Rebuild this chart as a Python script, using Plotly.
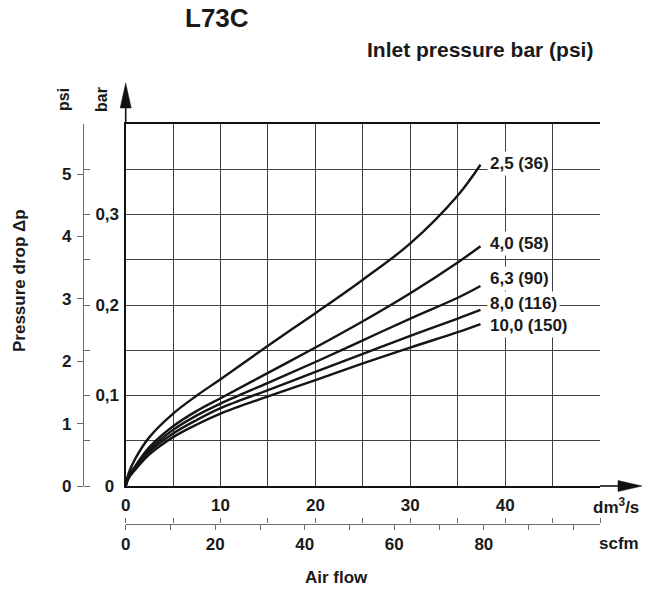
import plotly.graph_objects as go

# ---------------- data ----------------
flow_dm3s = [0, 0.3, 1, 2.5, 5, 7.5, 10, 15, 20, 25, 30, 35, 37.4]
dp_25 = [0, 0.014, 0.030, 0.054, 0.080, 0.100, 0.118, 0.155, 0.191, 0.228, 0.268, 0.321, 0.355]
dp_40 = [0, 0.011, 0.022, 0.043, 0.066, 0.083, 0.097, 0.125, 0.153, 0.182, 0.213, 0.247, 0.265]
dp_63 = [0, 0.010, 0.020, 0.040, 0.062, 0.078, 0.091, 0.114, 0.137, 0.161, 0.185, 0.208, 0.221]
dp_80 = [0, 0.009, 0.019, 0.038, 0.058, 0.073, 0.086, 0.106, 0.126, 0.146, 0.166, 0.185, 0.1945]
dp_100 = [0, 0.0085, 0.018, 0.035, 0.054, 0.068, 0.080, 0.099, 0.117, 0.1355, 0.153, 0.170, 0.179]

series_values = [dp_25, dp_40, dp_63, dp_80, dp_100]
series_labels = ["2,5 (36)", "4,0 (58)", "6,3 (90)", "8,0 (116)", "10,0 (150)"]

dm3s_ticks = [0, 5, 10, 15, 20, 25, 30, 35, 40, 45, 50]
dm3s_ticktext = ["0", " ", "10", " ", "20", " ", "30", " ", "40", " ", " "]
scfm_ticks = [0, 10, 20, 30, 40, 50, 60, 70, 80, 90, 100]
scfm_ticktext = ["0", " ", "20", " ", "40", " ", "60", " ", "80", " ", " "]
psi_ticks = [0, 1, 2, 3, 4, 5]
psi_ticktext = ["0", "1", "2", "3", "4", "5"]
bar_ticks = [0, 0.05, 0.1, 0.15, 0.2, 0.25, 0.3, 0.35]
bar_ticktext = ["\u20070", " ", "0,1", " ", "0,2", " ", "0,3", " "]

FLOW_MAX = 50          # dm3/s
BAR_MAX = 0.4          # bar
SCFM_PER_DM3S = 2.11888
PSI_PER_BAR = 14.5038

# ---------------- layout geometry ----------------
W, H = 649, 589
def px(x):
    return x / W
def py(y):
    return 1 - y / H

FONT = "Liberation Sans"
TXT = "#1a1a1a"
GRID = "#404040"
SCALE = "#6a6a6a"

def bfont(size):
    return dict(family=FONT, size=size, color=TXT, weight="bold")

fig = go.Figure()

for vals in series_values:
    fig.add_trace(go.Scatter(
        x=flow_dm3s, y=vals, mode="lines",
        line=dict(color="#151515", width=2.4, shape="spline", smoothing=1.0),
        hoverinfo="skip", showlegend=False, xaxis="x", yaxis="y"))

# curve end labels
annotations = []
label_y_px = [164, 243, 279, 303, 325]
for vals, lab, ly in zip(series_values, series_labels, label_y_px):
    annotations.append(dict(
        x=px(487), y=py(ly), xref="paper", yref="paper", text=lab,
        showarrow=False, xanchor="left", yanchor="middle",
        font=bfont(17), bgcolor="white", borderpad=2))

annotations += [
    dict(x=px(217), y=py(18), xref="paper", yref="paper", text="L73C",
         showarrow=False, font=bfont(26), xanchor="center", yanchor="middle"),
    dict(x=px(480), y=py(49), xref="paper", yref="paper", text="Inlet pressure bar (psi)",
         showarrow=False, font=bfont(21), xanchor="center", yanchor="middle"),
    dict(x=px(63), y=py(100), xref="paper", yref="paper", text="psi", textangle=-90,
         showarrow=False, font=bfont(16), xanchor="center", yanchor="middle"),
    dict(x=px(101), y=py(100), xref="paper", yref="paper", text="bar", textangle=-90,
         showarrow=False, font=bfont(16), xanchor="center", yanchor="middle"),
    dict(x=px(20), y=py(281), xref="paper", yref="paper", text="Pressure drop Δp",
         textangle=-90, showarrow=False, font=bfont(17), xanchor="center", yanchor="middle"),
    dict(x=px(616), y=py(506), xref="paper", yref="paper", text="dm<sup>3</sup>/s",
         showarrow=False, font=bfont(17), xanchor="center", yanchor="middle"),
    dict(x=px(619), y=py(543), xref="paper", yref="paper", text="scfm",
         showarrow=False, font=bfont(17), xanchor="center", yanchor="middle"),
    dict(x=px(336), y=py(577), xref="paper", yref="paper", text="Air flow",
         showarrow=False, font=bfont(17), xanchor="center", yanchor="middle"),
]

# axis arrow decorations
shapes = [
    dict(type="line", xref="paper", yref="paper", x0=px(600), y0=py(486), x1=px(620), y1=py(486),
         line=dict(color="#111", width=1.6)),
    dict(type="path", xref="paper", yref="paper",
         path=f"M {px(618)} {py(480.5)} L {px(642)} {py(486)} L {px(618)} {py(491.5)} Z",
         fillcolor="#111", line=dict(color="#111", width=0.5)),
    dict(type="line", xref="paper", yref="paper", x0=px(125.7), y0=py(124), x1=px(125.7), y1=py(106),
         line=dict(color="#111", width=1.6)),
    dict(type="path", xref="paper", yref="paper",
         path=f"M {px(120.2)} {py(108)} L {px(125.7)} {py(83)} L {px(131.2)} {py(108)} Z",
         fillcolor="#111", line=dict(color="#111", width=0.5)),
]

x_dom = [px(125.7), px(600)]
y_dom = [py(486), py(124)]
scale_y = py(523.5)
scale_x = px(83)

fig.update_layout(
    width=W, height=H,
    margin=dict(l=0, r=0, t=0, b=0, pad=0),
    paper_bgcolor="white", plot_bgcolor="white",
    showlegend=False,
    annotations=annotations,
    shapes=shapes,
    xaxis=dict(domain=x_dom, range=[0, FLOW_MAX], tickvals=dm3s_ticks, showticklabels=False,
               ticks="", showgrid=True, gridcolor=GRID, gridwidth=1.1, zeroline=False,
               showline=True, linecolor="#111", linewidth=1.5, mirror=True,
               automargin=False, fixedrange=True),
    yaxis=dict(domain=y_dom, range=[0, BAR_MAX], tickvals=bar_ticks + [BAR_MAX], showticklabels=False,
               ticks="", showgrid=True, gridcolor=GRID, gridwidth=1.1, zeroline=False,
               showline=True, linecolor="#111", linewidth=1.5, mirror=False,
               automargin=False, fixedrange=True),
    # dm3/s scale (ticks up, labels above)
    xaxis2=dict(overlaying="x", anchor="free", position=scale_y, side="top",
                range=[0, FLOW_MAX], tickvals=dm3s_ticks, ticktext=dm3s_ticktext,
                ticks="outside", ticklen=5, tickwidth=1.2, tickcolor=SCALE,
                showline=True, linecolor=SCALE, linewidth=1.2, showgrid=False, zeroline=False,
                tickfont=bfont(17), ticklabelstandoff=1, automargin=False, fixedrange=True),
    # scfm scale (ticks down, labels below)
    xaxis3=dict(overlaying="x", anchor="free", position=scale_y, side="bottom",
                range=[0, FLOW_MAX * SCFM_PER_DM3S], tickvals=scfm_ticks, ticktext=scfm_ticktext,
                ticks="outside", ticklen=5, tickwidth=1.2, tickcolor=SCALE,
                showline=False, showgrid=False, zeroline=False,
                tickfont=bfont(17), ticklabelstandoff=0, automargin=False, fixedrange=True),
    # psi scale (ticks left)
    yaxis2=dict(overlaying="y", anchor="free", position=scale_x, side="left",
                range=[0, BAR_MAX * PSI_PER_BAR], tickvals=psi_ticks, ticktext=psi_ticktext,
                ticks="outside", ticklen=6, tickwidth=1.2, tickcolor=SCALE,
                showline=True, linecolor=SCALE, linewidth=1.2, showgrid=False, zeroline=False,
                tickfont=bfont(17), ticklabelstandoff=2, automargin=False, fixedrange=True),
    # bar scale (ticks right)
    yaxis3=dict(overlaying="y", anchor="free", position=scale_x, side="right",
                range=[0, BAR_MAX], tickvals=bar_ticks, ticktext=bar_ticktext,
                ticks="outside", ticklen=6, tickwidth=1.2, tickcolor=SCALE,
                showline=False, showgrid=False, zeroline=False,
                tickfont=bfont(17), ticklabelstandoff=2, automargin=False, fixedrange=True),
)

# empty helper traces so the scale axes are rendered
fig.add_trace(go.Scatter(x=[None], y=[None], xaxis="x2", yaxis="y", showlegend=False, hoverinfo="skip"))
fig.add_trace(go.Scatter(x=[None], y=[None], xaxis="x3", yaxis="y", showlegend=False, hoverinfo="skip"))
fig.add_trace(go.Scatter(x=[None], y=[None], xaxis="x", yaxis="y2", showlegend=False, hoverinfo="skip"))
fig.add_trace(go.Scatter(x=[None], y=[None], xaxis="x", yaxis="y3", showlegend=False, hoverinfo="skip"))

# the browser's default 8px page margin would shift the figure; remove it
fig.write_html("out.html", config={"displayModeBar": False},
               post_script="document.body.style.margin='0px';")
